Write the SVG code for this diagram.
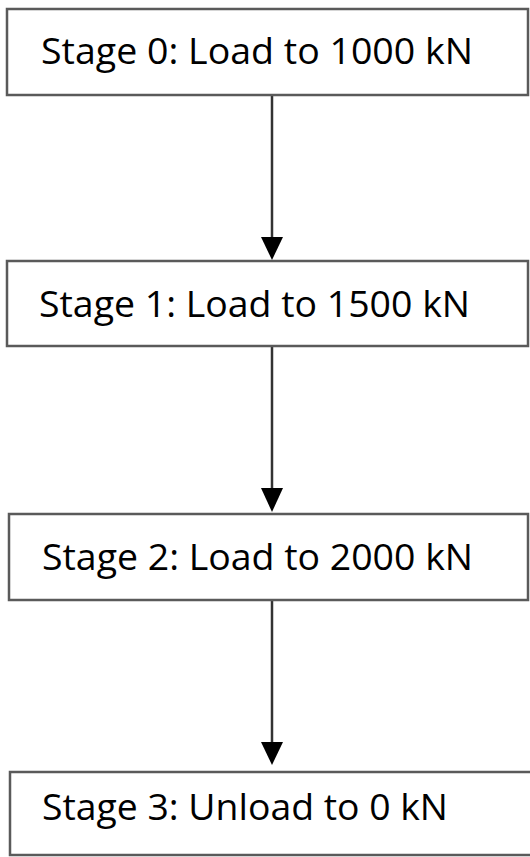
<svg xmlns="http://www.w3.org/2000/svg" width="530" height="857" viewBox="0 0 530 857">
<style>
.box{fill:#fff;stroke:#5a5a5a;stroke-width:2.5}
.lbl{font-family:"Open Sans","Liberation Sans",sans-serif;font-size:36px;fill:#000}
.edge{stroke:#333;stroke-width:2.5;fill:none}
.head{fill:#000}
</style>
<rect width="530" height="857" fill="#fff"/>
<g id="connectors">
<line class="edge" x1="272" y1="95" x2="272" y2="240"/>
<polygon class="head" points="261,237 283,237 272,260"/>
<line class="edge" x1="272" y1="346" x2="272" y2="490"/>
<polygon class="head" points="261,488 283,488 272,512"/>
<line class="edge" x1="272" y1="600" x2="272" y2="745"/>
<polygon class="head" points="261,742 283,742 272,765"/>
</g>
<g id="stage0">
<rect class="box" x="7" y="9" width="521" height="86"/>
<text class="lbl" x="41" y="64" textLength="432" lengthAdjust="spacingAndGlyphs">Stage 0: Load to 1000 kN</text>
</g>
<g id="stage1">
<rect class="box" x="7" y="261" width="521" height="85"/>
<text class="lbl" x="39" y="317" textLength="431" lengthAdjust="spacingAndGlyphs">Stage 1: Load to 1500 kN</text>
</g>
<g id="stage2">
<rect class="box" x="9" y="514" width="519" height="86"/>
<text class="lbl" x="42" y="570" textLength="431" lengthAdjust="spacingAndGlyphs">Stage 2: Load to 2000 kN</text>
</g>
<g id="stage3">
<rect class="box" x="10" y="772" width="530" height="83"/>
<text class="lbl" x="42" y="820" textLength="406" lengthAdjust="spacingAndGlyphs">Stage 3: Unload to 0 kN</text>
</g>
</svg>
